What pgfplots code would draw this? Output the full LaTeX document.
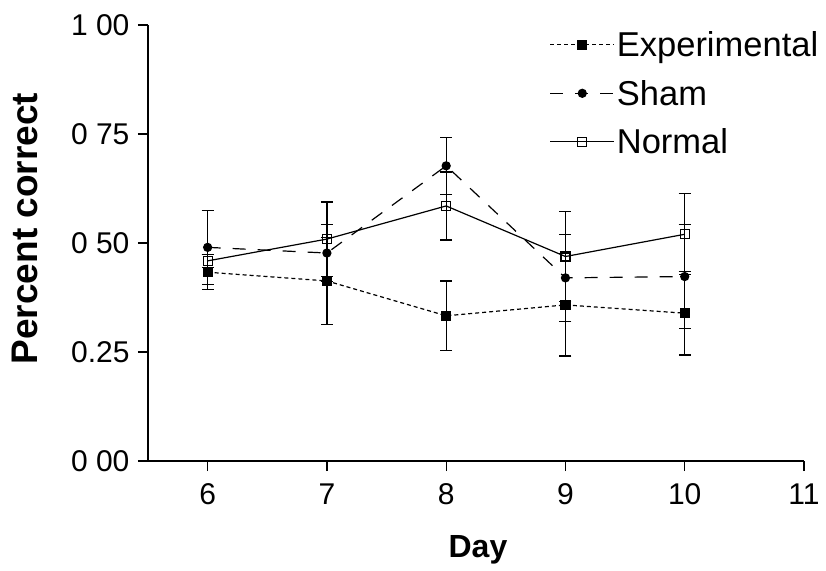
\documentclass[border=0pt]{standalone}
\usepackage{fontspec}
\setmainfont{Liberation Sans}
\usepackage{pgfplots}
\pgfplotsset{compat=1.18}

\begin{document}
\begin{tikzpicture}
\useasboundingbox (-148pt,-109pt) rectangle (678pt,461pt);
\begin{axis}[
  at={(0pt,0pt)}, anchor=south west,
  scale only axis, width=656pt, height=436pt,
  xmin=5.5, xmax=11, ymin=0, ymax=1,
  axis lines=left,
  axis line style={-, line width=1.2pt},
  xtick={6,7,8,9,10,11},
  ytick={0,0.25,0.5,0.75,1},
  yticklabels={0 00,0.25,0 50,0 75,1 00},
  tick style={black, line width=1.2pt},
  tick align=outside, major tick length=10pt,
  ticklabel style={font=\fontsize{30}{34}\selectfont},
  /pgf/number format/assume math mode=true,
  xticklabel style={yshift=-9pt},
  yticklabel style={xshift=-5pt},
  xlabel={Day}, ylabel={Percent correct},
  xlabel style={at={(axis description cs:0.503,0)}, anchor=center, yshift=-89pt,
    font=\bfseries\fontsize{32}{36}\selectfont},
  ylabel style={at={(axis description cs:0,0.533)}, anchor=center, yshift=123pt,
    font=\bfseries\fontsize{37}{40}\selectfont},
  legend style={at={(0.612,0.99)}, anchor=north west, draw=none, fill=none,
    font=\fontsize{34.5}{38}\selectfont, row sep=18pt, inner sep=0pt, cells={anchor=west}},
  legend image code/.code={%
    \draw[mark repeat=2,mark phase=2,#1] plot coordinates {(0pt,0pt) (32pt,0pt) (64pt,0pt)};},
  error bars/y dir=both, error bars/y explicit,
  error bars/error bar style={line width=1.2pt, solid, black},
  error bars/error mark options={rotate=90, mark size=6pt, line width=1.2pt, solid, black},
]
% Experimental group
\addplot[black, line width=1.2pt, dash pattern=on 4pt off 3pt,
  mark=square*, mark size=4.5pt, mark options={solid}]
  coordinates {
    (6,0.433) +- (0,0.040)
    (7,0.413) +- (0,0.100)
    (8,0.333) +- (0,0.080)
    (9,0.358) +- (0,0.117)
    (10,0.339) +- (0,0.096)
  };
\addlegendentry{Experimental}
% Sham group
\addplot[black, line width=1.2pt, dash pattern=on 13pt off 12pt,
  mark=*, mark size=4pt, mark options={solid}]
  coordinates {
    (6,0.490) +- (0,0.085)
    (7,0.477) +- (0,0.065)
    (8,0.677) +- (0,0.065)
    (9,0.420) +- (0,0.100)
    (10,0.423) +- (0,0.120)
  };
\addlegendentry{Sham}
% Normal group
\addplot[black, line width=1.2pt,
  mark=square, mark size=4.5pt, mark options={solid, fill=white}]
  coordinates {
    (6,0.459) +- (0,0.015)
    (7,0.509) +- (0,0.085)
    (8,0.585) +- (0,0.078)
    (9,0.469) +- (0,0.104)
    (10,0.520) +- (0,0.093)
  };
\addlegendentry{Normal}
\end{axis}
\end{tikzpicture}
\end{document}
